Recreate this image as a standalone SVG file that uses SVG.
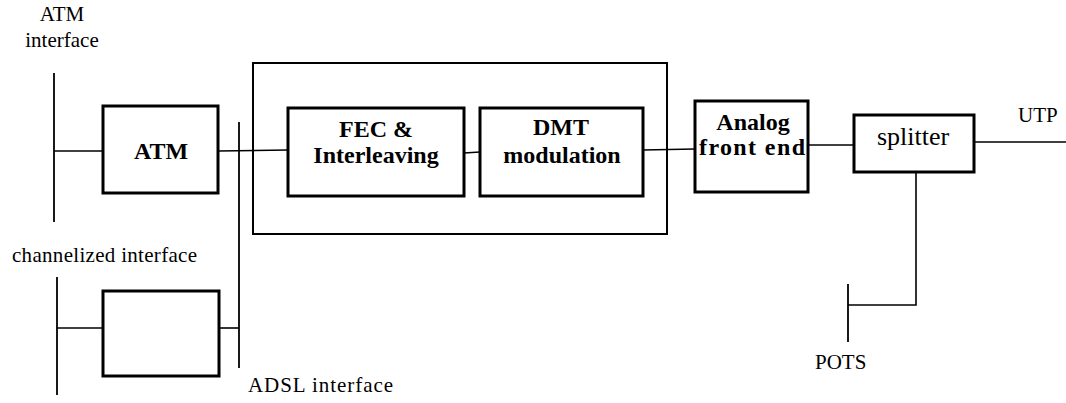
<svg xmlns="http://www.w3.org/2000/svg" width="1066" height="403" viewBox="0 0 1066 403">
  <style>
    .blk { fill: #fff; stroke: #000; stroke-width: 3; }
    .frame { fill: none; stroke: #000; stroke-width: 2; }
    .wire { fill: none; stroke: #000; stroke-width: 1.6; }
    .bus { fill: none; stroke: #000; stroke-width: 1.8; }
  </style>
  <rect width="1066" height="403" fill="#fff"/>

  <!-- interface buses and connectors -->
  <g id="connectors">
    <line class="bus" x1="54" y1="73" x2="54" y2="222"/>
    <line class="bus" x1="57" y1="277" x2="57" y2="395"/>
    <line class="bus" x1="239" y1="122" x2="239" y2="368"/>
    <line class="bus" x1="848" y1="284" x2="848" y2="342"/>
    <line class="wire" x1="54" y1="151" x2="103" y2="151"/>
    <line class="wire" x1="218" y1="151" x2="288" y2="150"/>
    <line class="wire" x1="57" y1="328" x2="103" y2="328"/>
    <line class="wire" x1="219" y1="328" x2="239" y2="328"/>
    <line class="wire" x1="464" y1="153" x2="480" y2="152"/>
    <line class="wire" x1="643" y1="150" x2="695" y2="149"/>
    <line class="wire" x1="808" y1="145" x2="854" y2="145"/>
    <line class="wire" x1="974" y1="142" x2="1066" y2="142"/>
    <polyline class="wire" points="916,172 916,305 848,305"/>
  </g>

  <!-- plain labels: regular serif, 21px -->
  <g id="atm-interface-label" font-family="Liberation Serif" font-size="21" text-anchor="middle">
    <text x="62" y="21">ATM</text>
    <text x="62" y="47">interface</text>
  </g>
  <g id="channelized-interface-label" font-family="Liberation Serif" font-size="21">
    <text x="12" y="262" textLength="185">channelized interface</text>
  </g>
  <g id="adsl-interface-label" font-family="Liberation Serif" font-size="21">
    <text x="248" y="392" textLength="145">ADSL interface</text>
  </g>

  <!-- blocks: bold serif captions, 24px -->
  <g id="atm" font-family="Liberation Serif" font-size="24" font-weight="bold" text-anchor="middle">
    <rect class="blk" x="103" y="106" width="115" height="87"/>
    <text x="161" y="159">ATM</text>
  </g>

  <g id="channelized">
    <rect class="blk" x="103" y="291" width="116" height="85"/>
  </g>

  <g id="adsl-core">
    <rect class="frame" x="253" y="63" width="414" height="171"/>
  </g>

  <g id="fec" font-family="Liberation Serif" font-size="24" font-weight="bold" text-anchor="middle">
    <rect class="blk" x="288" y="108" width="176" height="88"/>
    <text x="376" y="137">FEC &amp;</text>
    <text x="376" y="163">Interleaving</text>
  </g>

  <g id="dmt" font-family="Liberation Serif" font-size="24" font-weight="bold" text-anchor="middle">
    <rect class="blk" x="480" y="108" width="163" height="88"/>
    <text x="561" y="135">DMT</text>
    <text x="562" y="163">modulation</text>
  </g>

  <g id="afe" font-family="Liberation Serif" font-size="24" font-weight="bold" text-anchor="middle">
    <rect class="blk" x="695" y="101" width="113" height="91"/>
    <text x="753" y="130">Analog</text>
    <text x="752" y="155" textLength="106">front end</text>
  </g>

  <g id="splitter" font-family="Liberation Serif" font-size="26" text-anchor="middle">
    <rect class="blk" x="854" y="115" width="120" height="57"/>
    <text x="913" y="145">splitter</text>
  </g>

  <g id="utp-label" font-family="Liberation Serif" font-size="21">
    <text x="1018" y="122">UTP</text>
  </g>
  <g id="pots-label" font-family="Liberation Serif" font-size="21">
    <text x="815" y="369">POTS</text>
  </g>
</svg>
